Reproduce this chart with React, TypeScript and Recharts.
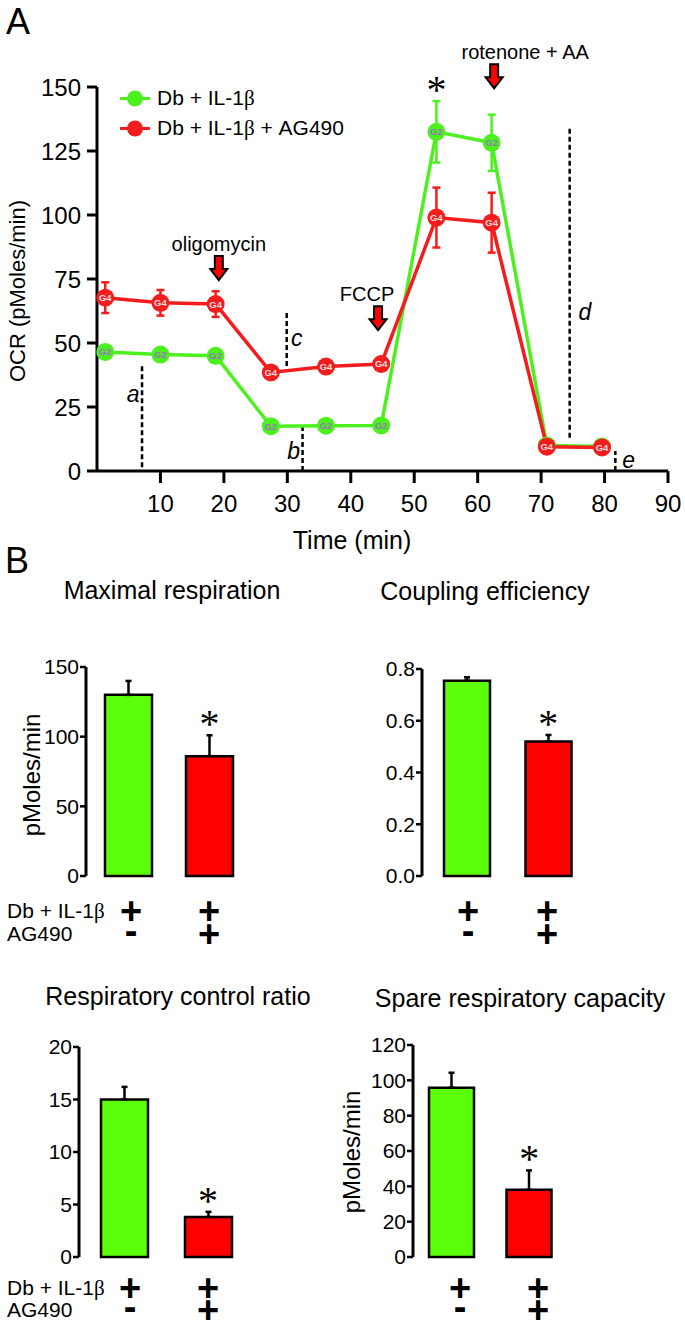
import React from 'react'
import {
  ComposedChart,
  Line,
  XAxis,
  YAxis,
  ErrorBar,
  ReferenceLine,
  ReferenceDot,
  Legend,
  BarChart,
  Bar,
  Cell,
} from 'recharts'

const FONT = '"Liberation Sans", Arial, Helvetica, sans-serif'
const SERIF = '"Liberation Serif", "Times New Roman", serif'
const GREEN_LINE = '#4cf01e'
const RED_LINE = '#f41c1c'
const GREEN_BAR = '#5cff0a'
const RED_BAR = '#ff0000'

// panel A: OCR time course
const times = [1.3, 10, 18.7, 27.4, 36.1, 44.8, 53.5, 62.2, 70.9, 79.6]
const ctrlOcr = [46.5, 45.5, 45, 17.5, 17.7, 17.8, 132.5, 128.2, 10, 9.6]
const ctrlErr = [1.5, 1.5, 1.5, 1, 1, 1, 12, 11, 1, 1]
const agOcr = [67.7, 65.7, 65.2, 38.5, 40.8, 41.8, 99, 97, 9.5, 9.2]
const agErr = [6, 5, 5, 1.5, 1.5, 1.5, 11.7, 11.7, 1, 1]
const timeTicks = [10, 20, 30, 40, 50, 60, 70, 80, 90]
const ocrTicks = [0, 25, 50, 75, 100, 125, 150]
const seriesNames = ['Db + IL-1β', 'Db + IL-1β + AG490']

const injections = [
  { t: 19.2, ocr: 74.6, name: 'oligomycin', dx: 0 },
  { t: 44.3, ocr: 55, name: 'FCCP', dx: -11 },
  { t: 62.6, ocr: 149.5, name: 'rotenone + AA', dx: 31 },
]
const gaps = [
  { name: 'a', t: 7.1, from: 1.5, to: 42, lt: 5.7, ly: 27 },
  { name: 'b', t: 32.4, from: 0, to: 17.5, lt: 31.0, ly: 4.7 },
  { name: 'c', t: 29.9, from: 41, to: 62, lt: 31.5, ly: 48.8 },
  { name: 'd', t: 74.5, from: 13, to: 134.5, lt: 76.9, ly: 59 },
  { name: 'e', t: 81.7, from: 0, to: 7.8, lt: 83.8, ly: 1.2 },
]

// panel B: summary bars
const groups = ['ctrl', 'ag490']
const maxResp = [130, 86]
const maxRespErr = [10, 15]
const coupling = [0.755, 0.52]
const couplingErr = [0.013, 0.025]
const rcr = [15, 3.8]
const rcrErr = [1.2, 0.5]
const spare = [95.8, 38]
const spareErr = [8.5, 11]
const dbRow = ['+', '+']
const agRow = ['-', '+']

const ocrData = times.map((t, i) => ({
  t,
  ctrl: ctrlOcr[i],
  ctrlErr: ctrlErr[i],
  ag: agOcr[i],
  agErr: agErr[i],
}))

function withBeta(s: string) {
  const parts = s.split('β')
  return parts.map((p, i) => (
    <React.Fragment key={i}>
      {p}
      {i < parts.length - 1 && <span style={{ fontFamily: SERIF }}>β</span>}
    </React.Fragment>
  ))
}

const makeDot = (fill: string, label: string, color: string) => (p: any) => {
  const { cx, cy, index } = p
  if (cx == null || cy == null) return <g key={`${label}-${index}`} />
  return (
    <g key={`${label}-${index}`}>
      <circle cx={cx} cy={cy} r={9} fill={fill} />
      <text x={cx} y={cy + 3.5} textAnchor="middle" fontSize={9.5} fontWeight="bold" fill={color}>
        {label}
      </text>
    </g>
  )
}

const arrowShape = (name: string, dx: number) => (p: any) => {
  const { cx, cy } = p
  return (
    <g>
      <path
        d={`M${cx},${cy} l-8.5,-11 l4.5,0 l0,-13 l8,0 l0,13 l4.5,0 z`}
        fill={RED_BAR}
        stroke="#000"
        strokeWidth={2}
      />
      <text x={cx + dx} y={cy - 29} textAnchor="middle" fontSize={20} fill="#000">
        {name}
      </text>
    </g>
  )
}

const letterShape = (name: string) => (p: any) => (
  <text x={p.cx} y={p.cy} textAnchor="middle" fontSize={23} fontStyle="italic" fill="#000">
    {name}
  </text>
)

const starShape = (p: any) => (
  <text x={p.cx} y={p.cy + 2} textAnchor="middle" fontSize={40} fontFamily={SERIF} fill="#000">
    *
  </text>
)

const LegendBox = () => {
  const colors = [GREEN_LINE, RED_LINE]
  return (
    <div style={{ fontSize: 21, lineHeight: '29px', color: '#000', fontFamily: FONT }}>
      {seriesNames.map((n, i) => (
        <div key={n} style={{ display: 'flex', alignItems: 'center', whiteSpace: 'nowrap' }}>
          <svg width={36} height={29}>
            <line x1={2} x2={32} y1={14.5} y2={14.5} stroke={colors[i]} strokeWidth={3} />
            <circle cx={17} cy={14.5} r={8} fill={colors[i]} />
          </svg>
          <span style={{ marginLeft: 3 }}>{withBeta(n)}</span>
        </div>
      ))}
    </div>
  )
}

function TimeCourse() {
  return (
    <div style={{ position: 'absolute', left: 0, top: 0 }}>
      <ComposedChart
        width={685}
        height={560}
        data={ocrData}
        margin={{ top: 87, right: 17, left: 0, bottom: 39 }}
      >
        <XAxis
          dataKey="t"
          type="number"
          domain={[0, 90]}
          ticks={timeTicks}
          interval={0}
          height={50}
          axisLine={{ stroke: '#000', strokeWidth: 3 }}
          tickLine={{ stroke: '#000', strokeWidth: 3 }}
          tickSize={12}
          tickMargin={12}
          tick={{ fill: '#000', fontSize: 24 }}
        />
        <YAxis
          width={97}
          domain={[0, 150]}
          ticks={ocrTicks}
          interval={0}
          axisLine={{ stroke: '#000', strokeWidth: 3 }}
          tickLine={{ stroke: '#000', strokeWidth: 3 }}
          tickSize={10}
          tickMargin={6}
          tick={{ fill: '#000', fontSize: 24 }}
        />
        {gaps.map((g) => (
          <ReferenceLine
            key={g.name}
            segment={[
              { x: g.t, y: g.from },
              { x: g.t, y: g.to },
            ]}
            stroke="#000"
            strokeWidth={2.5}
            strokeDasharray="5 3"
          />
        ))}
        {gaps.map((g) => (
          <ReferenceDot key={`l-${g.name}`} x={g.lt} y={g.ly} r={0} shape={letterShape(g.name)} />
        ))}
        <Line
          dataKey="ctrl"
          name={seriesNames[0]}
          stroke={GREEN_LINE}
          strokeWidth={3.5}
          isAnimationActive={false}
          dot={makeDot(GREEN_LINE, 'G2', '#9a72c0')}
          activeDot={false}
        >
          <ErrorBar dataKey="ctrlErr" direction="y" width={4} stroke={GREEN_LINE} strokeWidth={2.5} />
        </Line>
        <Line
          dataKey="ag"
          name={seriesNames[1]}
          stroke={RED_LINE}
          strokeWidth={3.5}
          isAnimationActive={false}
          dot={makeDot(RED_LINE, 'G4', '#dcdcdc')}
          activeDot={false}
        >
          <ErrorBar dataKey="agErr" direction="y" width={4} stroke={RED_LINE} strokeWidth={2.5} />
        </Line>
        {injections.map((j) => (
          <ReferenceDot key={j.name} x={j.t} y={j.ocr} r={0} shape={arrowShape(j.name, j.dx)} />
        ))}
        <ReferenceDot x={times[6]} y={ctrlOcr[6] + ctrlErr[6]} r={0} shape={starShape} />
        <Legend
          layout="vertical"
          align="center"
          verticalAlign="middle"
          wrapperStyle={{ top: 83, left: 118, width: 320 }}
          content={() => <LegendBox />}
        />
      </ComposedChart>
    </div>
  )
}

type PanelProps = {
  left: number
  plotTop: number
  plotBottom: number
  axisX: number
  axisEnd: number
  padL: number
  padR: number
  barSize: number
  max: number
  ticks: number[]
  fmt?: (v: number) => string
  values: number[]
  errs: number[]
}

function BarPanel(p: PanelProps) {
  const data = groups.map((g, i) => ({ g, v: p.values[i], e: [0, p.errs[i]] }))
  const mt = 20
  const mb = 16
  const height = p.plotBottom - p.plotTop + mt + mb
  return (
    <div style={{ position: 'absolute', left: p.left, top: p.plotTop - mt }}>
      <BarChart
        width={p.axisEnd - p.left + 10}
        height={height}
        data={data}
        margin={{ top: mt, right: 10, left: 0, bottom: mb }}
      >
        <XAxis
          dataKey="g"
          tick={false}
          tickLine={false}
          height={0}
          padding={{ left: p.padL, right: p.padR }}
          axisLine={{ stroke: '#000', strokeWidth: 3 }}
        />
        <YAxis
          width={p.axisX - p.left}
          domain={[0, p.max]}
          ticks={p.ticks}
          interval={0}
          tickFormatter={p.fmt}
          axisLine={{ stroke: '#000', strokeWidth: 3 }}
          tickLine={{ stroke: '#000', strokeWidth: 2.5 }}
          tickSize={6}
          tickMargin={1}
          tick={{ fill: '#000', fontSize: 21 }}
        />
        <Bar dataKey="v" barSize={p.barSize} stroke="#000" strokeWidth={2.5} isAnimationActive={false}>
          {data.map((d, i) => (
            <Cell key={d.g} fill={i === 0 ? GREEN_BAR : RED_BAR} />
          ))}
          <ErrorBar dataKey="e" direction="y" width={3} stroke="#000" strokeWidth={2.5} />
        </Bar>
        <ReferenceDot x={groups[1]} y={p.values[1] + p.errs[1]} r={0} shape={starShape} />
      </BarChart>
    </div>
  )
}

// one text per column: Db + IL-1β row over AG490 row
function TreatmentRows({ xs, y1, y2, labels }: { xs: number[]; y1: number; y2: number; labels: boolean }) {
  return (
    <g>
      {labels && (
        <text x={7} y={y1 + 7} fontSize={21}>
          Db + IL-1<tspan fontFamily={SERIF}>β</tspan>
          <tspan x={7} y={y2 + 7}>AG490</tspan>
        </text>
      )}
      {xs.map((x, i) => (
        <text key={i} x={x} y={y1 + 13} textAnchor="middle" fontSize={38} fontWeight="bold">
          {dbRow[i]}
          <tspan x={x} y={y2 + (agRow[i] === '+' ? 13 : 10)}>
            {agRow[i]}
          </tspan>
        </text>
      ))}
    </g>
  )
}

export default function App() {
  return (
    <div
      style={{
        position: 'absolute',
        left: 0,
        top: 0,
        width: 685,
        height: 1322,
        background: '#fff',
        fontFamily: FONT,
        overflow: 'hidden',
      }}
    >
      <TimeCourse />
      <BarPanel left={0} plotTop={667} plotBottom={876} axisX={86} axisEnd={270} padL={2} padR={20} barSize={47}
        max={150} ticks={[0, 50, 100, 150]} values={maxResp} errs={maxRespErr} />
      <BarPanel left={340} plotTop={669} plotBottom={876} axisX={422} axisEnd={598} padL={4} padR={9} barSize={46}
        max={0.8} ticks={[0, 0.2, 0.4, 0.6, 0.8]} fmt={(v) => v.toFixed(1)} values={coupling} errs={couplingErr} />
      <BarPanel left={0} plotTop={1047} plotBottom={1257} axisX={79} axisEnd={263} padL={3} padR={13} barSize={47}
        max={20} ticks={[0, 5, 10, 15, 20]} values={rcr} errs={rcrErr} />
      <BarPanel left={340} plotTop={1045} plotBottom={1257} axisX={413} axisEnd={590} padL={0} padR={22} barSize={45}
        max={120} ticks={[0, 20, 40, 60, 80, 100, 120]} values={spare} errs={spareErr} />
      <svg
        width={685}
        height={1322}
        style={{ position: 'absolute', left: 0, top: 0, pointerEvents: 'none' }}
        fontFamily={FONT}
        fill="#000"
      >
        <text x={6} y={34} fontSize={36}>A</text>
        <text x={5} y={573} fontSize={36}>B</text>
        <text x={352} y={549} textAnchor="middle" fontSize={25}>Time (min)</text>
        <text transform="translate(25,291) rotate(-90)" textAnchor="middle" fontSize={22}>OCR (pMoles/min)</text>
        <text x={172} y={599} textAnchor="middle" fontSize={25}>Maximal respiration</text>
        <text x={485} y={600} textAnchor="middle" fontSize={25}>Coupling efficiency</text>
        <text x={178} y={1005} textAnchor="middle" fontSize={25}>Respiratory control ratio</text>
        <text x={520} y={1007} textAnchor="middle" fontSize={25}>Spare respiratory capacity</text>
        <text transform="translate(40,775) rotate(-90)" textAnchor="middle" fontSize={24}>pMoles/min</text>
        <text transform="translate(360,1152) rotate(-90)" textAnchor="middle" fontSize={24}>pMoles/min</text>
        <TreatmentRows xs={[131, 209]} y1={911} y2={934} labels />
        <TreatmentRows xs={[468, 547]} y1={911} y2={934} labels={false} />
        <TreatmentRows xs={[130, 208]} y1={1288} y2={1310} labels />
        <TreatmentRows xs={[460, 538]} y1={1288} y2={1310} labels={false} />
      </svg>
    </div>
  )
}
